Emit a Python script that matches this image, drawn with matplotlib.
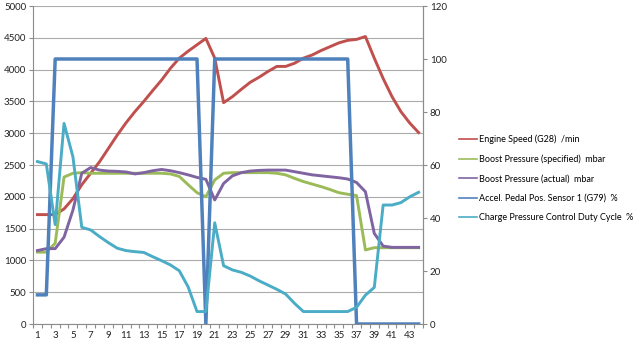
import matplotlib
matplotlib.use("Agg")
import matplotlib.pyplot as plt
from matplotlib.ticker import MultipleLocator, FixedLocator

plt.rcParams["font.family"] = ["Lato", "DejaVu Sans"]

samples = list(range(1, 45))

engine_speed = [1720, 1720, 1720, 1810, 1970, 2190, 2370, 2550, 2760, 2970,
                3165, 3340, 3500, 3670, 3835, 4020, 4180, 4290, 4390, 4490,
                4180, 3480, 3575, 3690, 3800, 3880, 3970, 4050, 4050, 4100,
                4180, 4230, 4300, 4360, 4420, 4460, 4475, 4520, 4180, 3860,
                3575, 3340, 3160, 3010]
boost_spec = [1130, 1130, 1270, 2310, 2370, 2380, 2370, 2370, 2370, 2370,
              2370, 2370, 2370, 2370, 2370, 2360, 2320, 2190, 2065, 2000,
              2265, 2370, 2380, 2380, 2380, 2380, 2380, 2370, 2345, 2290,
              2240, 2200, 2160, 2115, 2065, 2040, 2020, 1165, 1200, 1200,
              1200, 1200, 1200, 1200]
boost_act = [1155, 1185, 1185, 1365, 1790, 2370, 2460, 2420, 2405, 2400,
             2390, 2360, 2380, 2410, 2430, 2410, 2380, 2345, 2305, 2275,
             1950, 2210, 2330, 2380, 2405, 2415, 2420, 2420, 2420, 2395,
             2370, 2345, 2330, 2315, 2300, 2280, 2225, 2080, 1425, 1225,
             1205, 1205, 1205, 1205]
accel_pedal = [11, 11] + [100] * 17 + [0] + [100] * 16 + [0] * 8
duty_cycle = [61.3, 60.4, 37.5, 75.7, 63.1, 36.5, 35.5, 33.0, 30.7, 28.6,
              27.7, 27.3, 27.0, 25.4, 23.9, 22.3, 20.1, 14.0, 4.7, 4.7,
              38.2, 22.0, 20.4, 19.5, 18.1, 16.3, 14.7, 13.1, 11.3, 7.8,
              4.7, 4.7, 4.7, 4.7, 4.7, 4.7, 6.3, 10.9, 13.8, 44.9,
              44.9, 45.8, 48.0, 49.7]

labels = ["Engine Speed (G28)  /min",
          "Boost Pressure (specified)  mbar",
          "Boost Pressure (actual)  mbar",
          "Accel. Pedal Pos. Sensor 1 (G79)  %",
          "Charge Pressure Control Duty Cycle  %"]
colors = ["#C0504D", "#9BBB59", "#8064A2", "#4F81BD", "#4BACC6"]

fig = plt.figure(figsize=(6.4, 3.49), dpi=100)
ax = fig.add_axes([0.0516, 0.0716, 0.6094, 0.9112])
ax2 = ax.twinx()

l1, = ax.plot(samples, engine_speed, color=colors[0], lw=2.1)
l2, = ax.plot(samples, boost_spec, color=colors[1], lw=2.1)
l3, = ax.plot(samples, boost_act, color=colors[2], lw=2.1)
l4, = ax2.plot(samples, accel_pedal, color=colors[3], lw=2.5)
l5, = ax2.plot(samples, duty_cycle, color=colors[4], lw=2.1)

ax.set_xlim(0.5, 44.5)
ax.set_ylim(0, 5000)
ax2.set_ylim(0, 120)
ax.yaxis.set_major_locator(MultipleLocator(500))
ax2.yaxis.set_major_locator(MultipleLocator(20))
ax.set_xticks(samples[::2])
ax.xaxis.set_minor_locator(FixedLocator([i + 0.5 for i in range(0, 45)]))
ax.grid(axis="y", color="#ABABAB", lw=0.8)
ax.set_axisbelow(True)

for a in (ax, ax2):
    a.spines["top"].set_visible(False)
    for s in ("left", "right", "bottom"):
        a.spines[s].set_color("#8C8C8C")
        a.spines[s].set_linewidth(0.8)
    a.tick_params(labelsize=7, colors="#8C8C8C", labelcolor="#222222",
                  length=3, width=0.8, pad=2)
ax.tick_params(axis="x", which="major", length=0)
ax.tick_params(axis="x", which="minor", length=3, width=0.8, colors="#8C8C8C")
ax.tick_params(axis="x", pad=5)
ax2.spines["left"].set_visible(False)
ax2.spines["bottom"].set_visible(False)

fig.legend([l1, l2, l3, l4, l5], labels, loc="upper left",
           bbox_to_anchor=(0.712, 0.625), frameon=False, fontsize=6.5,
           handlelength=2.0, handletextpad=0.2, labelspacing=1.15,
           borderaxespad=0)
for line in fig.legends[0].get_lines():
    line.set_linewidth(1.2)

fig.savefig("out.png", dpi=100, facecolor="white")
